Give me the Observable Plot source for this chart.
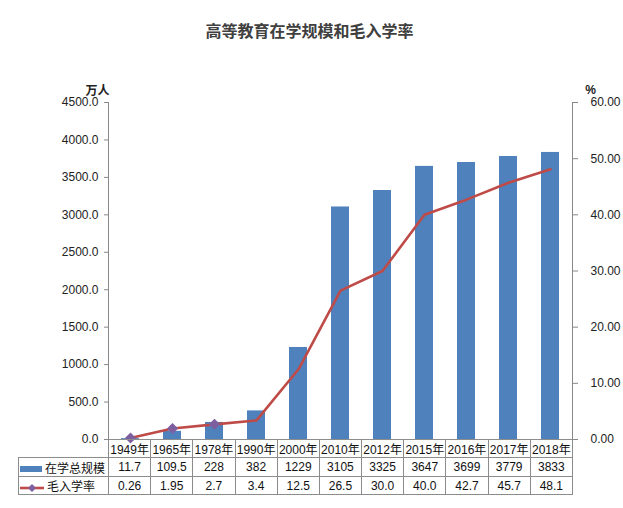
<!DOCTYPE html>
<html><head><meta charset="utf-8">
<script src="https://cdn.jsdelivr.net/npm/d3@7"></script>
<script src="https://cdn.jsdelivr.net/npm/@observablehq/plot@0.6"></script>
<style>
body{margin:0;background:#fff;font-family:"Liberation Sans","Noto Sans CJK SC",sans-serif;}
#wrap{position:relative;width:623px;height:508px;}
#title{height:60px;line-height:60px;text-align:center;font-size:16px;font-weight:bold;color:#404040;font-family:"Noto Sans CJK SC",sans-serif;padding-right:4px;box-sizing:border-box;}
#tbl{position:absolute;left:18px;top:439px;border-collapse:collapse;table-layout:fixed;font-size:12px;color:#111;}
#tbl td{border:1px solid #8c8c8c;text-align:center;padding:0;white-space:nowrap;overflow:hidden;}
#tbl td.blank{border:none;}
#tbl td.lab{text-align:left;font-family:"Noto Sans CJK SC",sans-serif;}
#tbl td.lab svg{vertical-align:middle;margin-right:2px;}
</style></head>
<body><div id="wrap"><div id="title">高等教育在学规模和毛入学率</div><div id="chart"></div><table id="tbl"></table></div>
<script>
const years = ["1949年","1965年","1978年","1990年","2000年","2010年","2012年","2015年","2016年","2017年","2018年"];
const enrolment = [11.7,109.5,228,382,1229,3105,3325,3647,3699,3779,3833];
const enrolmentLabels = ["11.7","109.5","228","382","1229","3105","3325","3647","3699","3779","3833"];
const grossRate = [0.26,1.95,2.7,3.4,12.5,26.5,30.0,40.0,42.7,45.7,48.1];
const grossRateLabels = ["0.26","1.95","2.7","3.4","12.5","26.5","30.0","40.0","42.7","45.7","48.1"];
const seriesNames = ["在学总规模","毛入学率"];
const leftTicks = [0,500,1000,1500,2000,2500,3000,3500,4000,4500];
const rightTicks = [0,10,20,30,40,50,60];
const markedPoints = 3;

const K = 4500/60;
const data = years.map((y,i)=>({year:y, n:enrolment[i], rate:grossRate[i], i}));
const barColor = "#4f81bd", lineColor = "#be4b48", markColor = "#7d5fa0";
const mL = 108, mR = 51;

const chart = Plot.plot({
  width:623, height:448,
  marginTop:42, marginBottom:69, marginLeft:mL, marginRight:mR,
  style:{fontFamily:"Liberation Sans, Noto Sans CJK SC, sans-serif", fontSize:"12px", color:"#222"},
  x:{type:"band", domain:years, padding:0, axis:null},
  y:{domain:[0,4500], axis:null},
  marks:[
    Plot.barY(data,{x:"year", y:"n", fill:barColor, insetLeft:12, insetRight:12}),
    Plot.line(data,{x:"year", y:d=>d.rate*K, stroke:lineColor, strokeWidth:2.6}),
    Plot.dot(data.filter(d=>d.i<markedPoints),{x:"year", y:d=>d.rate*K, symbol:"diamond2", r:4, fill:markColor, stroke:markColor}),
    Plot.axisY({anchor:"left", label:null, ticks:leftTicks, tickFormat:d=>d.toFixed(1), tickSize:4, tickPadding:6, stroke:"#888"}),
    Plot.axisY({anchor:"right", label:null, ticks:rightTicks.map(v=>v*K), tickFormat:d=>(d/K).toFixed(2), tickSize:5, tickPadding:13, stroke:"#888"}),
    Plot.frame({anchor:"left", stroke:"#888"}),
    Plot.frame({anchor:"right", stroke:"#888"}),
    Plot.text(["万人"],{frameAnchor:"top-left", textAnchor:"middle", dx:-11, dy:-16, fontWeight:"bold", fontSize:12, fontFamily:"Noto Sans CJK SC"}),
    Plot.text(["%"],{frameAnchor:"top-right", textAnchor:"middle", dx:18, dy:-17, fontWeight:"bold", fontSize:12})
  ]
});
document.getElementById("chart").appendChild(chart);

const colW = (623-mL-mR)/years.length;
const tbl = document.getElementById("tbl");
let html = `<colgroup><col style="width:${mL-18}px">` + years.map(()=>`<col style="width:${colW}px">`).join("") + `</colgroup>`;
html += `<tr style="height:18px"><td class="blank"></td>` + years.map(y=>`<td>${y}</td>`).join("") + `</tr>`;
const sw1 = `<svg width="24" height="8"><rect x="1" y="1" width="22" height="6" fill="${barColor}"/></svg>`;
const sw2 = `<svg width="26" height="10"><line x1="1" y1="5" x2="25" y2="5" stroke="${lineColor}" stroke-width="2.6"/><path d="M13 1 L17 5 L13 9 L9 5Z" fill="${markColor}"/></svg>`;
html += `<tr style="height:19px"><td class="lab">${sw1}${seriesNames[0]}</td>` + enrolmentLabels.map(v=>`<td>${v}</td>`).join("") + `</tr>`;
html += `<tr style="height:18px"><td class="lab">${sw2}${seriesNames[1]}</td>` + grossRateLabels.map(v=>`<td>${v}</td>`).join("") + `</tr>`;
tbl.innerHTML = html;
</script></body></html>
